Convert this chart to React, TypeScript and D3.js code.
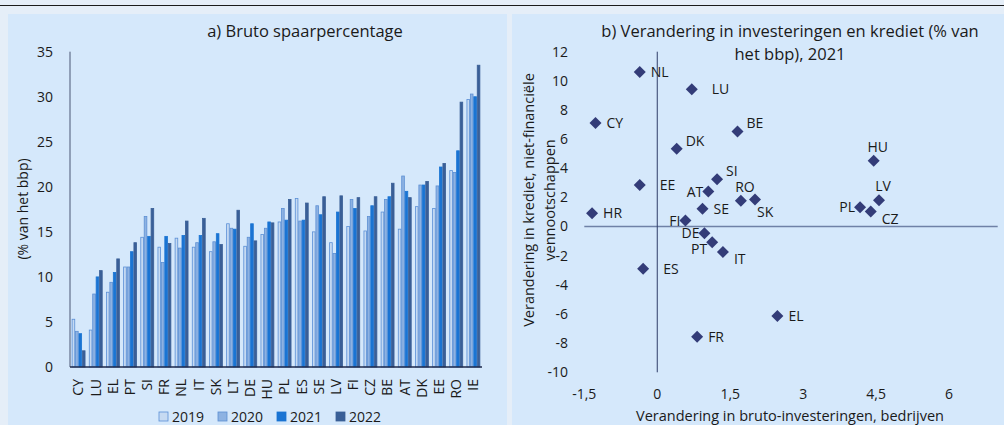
import React from "react";
import * as d3 from "d3";

// ---------- Panel a) data ----------
const categories = ["CY","LU","EL","PT","SI","FR","NL","IT","SK","LT","DE","HU","PL","ES","SE","LV","FI","CZ","BE","AT","DK","EE","RO","IE"];
const s2019 = [5.3,4.1,8.3,11.1,14.4,13.3,14.3,13.3,12.8,15.9,13.4,14.7,16.1,18.7,15.0,13.8,15.6,15.1,17.2,15.3,17.8,17.6,21.8,29.7];
const s2020 = [3.96,8.1,9.4,11.1,16.7,11.6,13.2,13.8,13.9,15.4,14.4,15.4,17.6,16.2,17.9,12.6,18.6,16.7,18.6,21.2,20.2,20.1,21.6,30.3];
const s2021 = [3.7,10.0,10.5,12.8,14.5,14.5,14.6,14.6,14.8,15.3,15.9,16.1,16.3,16.3,16.9,17.2,17.6,17.9,18.9,19.5,20.2,22.2,24.0,30.0];
const s2022 = [1.8,10.7,12.0,13.8,17.6,13.7,16.2,16.5,13.6,17.4,14.0,16.0,18.6,18.2,18.9,19.0,18.8,18.9,20.4,18.8,20.6,22.6,29.4,33.5];
const seriesNames = ["2019","2020","2021","2022"];
const barTicks = [0,5,10,15,20,25,30,35];

// ---------- Panel b) data ----------
const scatterLabels = ["NL","LU","CY","BE","DK","HU","SI","EE","AT","RO","SK","LV","PL","CZ","SE","HR","FI","DE","PT","IT","ES","EL","FR"];
const investChange = [-0.36,0.71,-1.27,1.65,0.40,4.45,1.23,-0.36,1.05,1.72,2.01,4.56,4.17,4.39,0.93,-1.34,0.58,0.97,1.13,1.35,-0.29,2.47,0.82];
const creditChange = [10.6,9.43,7.1,6.53,5.34,4.52,3.24,2.85,2.40,1.78,1.85,1.80,1.32,1.03,1.23,0.91,0.41,-0.46,-1.07,-1.74,-2.90,-6.14,-7.56];
const labelPlacement = ["r","rr","r","ur","ur","a","ur","rr","l","a","b","a","l","dr","r","r","l","l","dl","dr","rr","r","r"];
const xTicks = [-1.5,0,1.5,3,4.5,6];
const yTicks = [-10,-8,-6,-4,-2,0,2,4,6,8,10,12];

const FONT = "'Open Sans', 'DejaVu Sans', sans-serif";
const TXT = "#1a1a1a";

const fills = ["#c6daf2", "#8db2e2", "#1a74d3", "#3a5f97"];
const strokes = ["#5a8fd6", "#5d8fd3", "#1a74d3", "#3a5f97"];

const placeOffsets: Record<string, { dx: number; dy: number; anchor: string }> = {
  r: { dx: 11, dy: 5, anchor: "start" },
  rr: { dx: 20, dy: 5, anchor: "start" },
  ur: { dx: 9, dy: -3, anchor: "start" },
  a: { dx: 4, dy: -9, anchor: "middle" },
  l: { dx: -5, dy: 5, anchor: "end" },
  dl: { dx: -5, dy: 12, anchor: "end" },
  dr: { dx: 11, dy: 12, anchor: "start" },
  b: { dx: 2, dy: 17, anchor: "start" },
};

function fmt(v: number) {
  return String(v).replace(".", ",");
}

export default function App() {
  // ----- left chart scales -----
  const x0 = d3.scaleBand<string>().domain(categories).range([70, 482]).paddingInner(0.2).paddingOuter(0.1);
  const x1 = d3.scaleBand<string>().domain(seriesNames).range([0, x0.bandwidth()]);
  const yL = d3.scaleLinear().domain([0, 35]).range([367, 51.7]);
  const allSeries = [s2019, s2020, s2021, s2022];

  // ----- right chart scales -----
  const xR = d3.scaleLinear().domain([-1.5, 7]).range([584.3, 997.7]);
  const yR = d3.scaleLinear().domain([-10, 12]).range([372.3, 51.7]);
  const diamond = d3.symbol().type(d3.symbolSquare).size(72)();

  const legendX = d3.scaleOrdinal<string, number>().domain(seriesNames).range([159, 218, 277, 336]);

  return (
    <svg width={1004} height={425} style={{ position: "absolute", left: 0, top: 0 }} fontFamily={FONT}>
      <rect x={0} y={0} width={1004} height={425} fill="#e5eef8" />
      <line x1={0} x2={1004} y1={5.5} y2={5.5} stroke="#1b1b1b" strokeWidth={1.2} />
      <rect x={8} y={14} width={499} height={411} fill="#d5e8fb" />
      <rect x={512} y={14} width={492} height={411} fill="#d5e8fb" />

      {/* ---------- Panel a ---------- */}
      <text x={305} y={37} textAnchor="middle" fontSize={16.5} fill={TXT}>a) Bruto spaarpercentage</text>
      {barTicks.map((t) => (
        <text key={t} x={53} y={yL(t)} dy="0.35em" textAnchor="end" fontSize={14} fill={TXT}>{t}</text>
      ))}
      <text transform={`translate(23,209) rotate(-90)`} textAnchor="middle" dy="0.35em" fontSize={14} fill={TXT}>(% van het bbp)</text>
      {categories.map((c, i) => (
        <g key={c} transform={`translate(${x0(c)},0)`}>
          {allSeries.map((s, k) => {
            const xx = x1(seriesNames[k])!;
            const top = yL(s[i]);
            return (
              <rect key={k} x={xx + 0.4} y={top} width={x1.bandwidth() - 0.8} height={yL(0) - top}
                fill={fills[k]} stroke={strokes[k]} strokeWidth={0.8} />
            );
          })}
        </g>
      ))}
      <line x1={70} x2={70} y1={51.7} y2={367} stroke="#4b5675" strokeWidth={1} />
      <line x1={70} x2={482} y1={367} y2={367} stroke="#1f2b4d" strokeWidth={1.5} />
      {categories.map((c) => (
        <text key={c} transform={`translate(${x0(c)! + x0.bandwidth() / 2},379) rotate(-90)`} textAnchor="end" dy="0.35em" fontSize={14} fill={TXT}>{c}</text>
      ))}
      {seriesNames.map((n, k) => (
        <g key={n}>
          <rect x={legendX(n)} y={412} width={9} height={9} fill={fills[k]} stroke={strokes[k]} strokeWidth={0.8} />
          <text x={legendX(n) + 13} y={421.5} fontSize={14} fill={TXT}>{n}</text>
        </g>
      ))}

      {/* ---------- Panel b ---------- */}
      <text x={790} y={37} textAnchor="middle" fontSize={16.5} fill={TXT}>b) Verandering in investeringen en krediet (% van</text>
      <text x={790} y={60} textAnchor="middle" fontSize={16.5} fill={TXT}>het bbp), 2021</text>
      {yTicks.map((t) => (
        <text key={t} x={568} y={yR(t)} dy="0.35em" textAnchor="end" fontSize={14} fill={TXT}>{t}</text>
      ))}
      {xTicks.map((t) => (
        <text key={t} x={xR(t)} y={399} textAnchor="middle" fontSize={14} fill={TXT}>{fmt(t)}</text>
      ))}
      <text transform={`translate(529,200) rotate(-90)`} textAnchor="middle" dy="0.35em" fontSize={14.5} fill={TXT}>Verandering in krediet, niet-financiële</text>
      <text transform={`translate(550,200) rotate(-90)`} textAnchor="middle" dy="0.35em" fontSize={14.5} fill={TXT}>vennootschappen</text>
      <text x={790} y={420.5} textAnchor="middle" fontSize={14.5} fill={TXT}>Verandering in bruto-investeringen, bedrijven</text>
      <line x1={xR(-1.5)} x2={xR(7)} y1={yR(0)} y2={yR(0)} stroke="#6f81a6" strokeWidth={1.5} />
      <line x1={xR(0)} x2={xR(0)} y1={yR(12)} y2={yR(-10)} stroke="#2f3c68" strokeWidth={1} />
      {scatterLabels.map((lab, i) => {
        const px = xR(investChange[i]);
        const py = yR(creditChange[i]);
        const o = placeOffsets[labelPlacement[i]];
        return (
          <g key={lab}>
            <path d={diamond!} transform={`translate(${px},${py}) rotate(45)`} fill="#333c78" />
            <text x={px + o.dx} y={py + o.dy} textAnchor={o.anchor} fontSize={14} fill={TXT}>{lab}</text>
          </g>
        );
      })}
    </svg>
  );
}
